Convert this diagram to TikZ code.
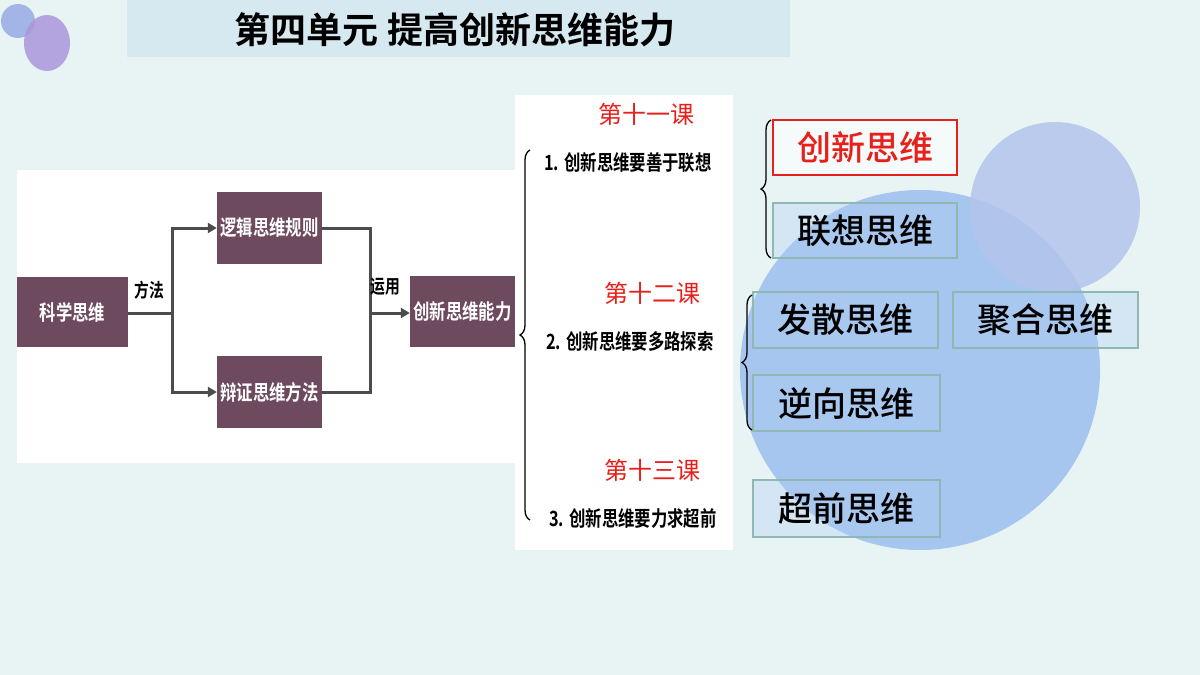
\documentclass[tikz,border=0pt]{standalone}
\usepackage{fontspec}
\usepackage{graphicx}
\newfontfamily\cjk{Noto Sans CJK SC}
\newfontfamily\cjkb{Noto Sans CJK SC Bold}
\newfontfamily\cjkm{Noto Sans CJK SC Medium}
\usetikzlibrary{decorations.pathreplacing,arrows.meta}
\definecolor{bg}{HTML}{E8F4F4}
\definecolor{titlebar}{HTML}{D6E8F0}
\definecolor{plum}{HTML}{6E4A5E}
\definecolor{bigc}{HTML}{A6C6F0}
\definecolor{smallc}{HTML}{B4C4EC}
\definecolor{boxb}{HTML}{8FB8B2}
\definecolor{rd}{HTML}{E8201C}
\newcommand{\narrow}[1]{\scalebox{0.78}[1]{#1}}
\tikzset{
 pbox/.style={fill=plum,text=white,font=\cjkb\fontsize{21}{21}\selectfont,inner sep=0pt},
 conn/.style={draw=black!70,line width=3pt},
 arr/.style={conn,-{Triangle[length=9pt,width=10pt]}},
 lbl/.style={font=\cjkb\fontsize{19}{19}\selectfont},
 lesson/.style={text=rd,font=\cjk\fontsize{24}{24}\selectfont},
 item/.style={font=\cjkb\fontsize{21}{21}\selectfont},
 tbox/.style={draw=boxb,line width=1.5pt,fill=white!10!bigc,fill opacity=0.35,text opacity=1,font=\cjkm\fontsize{34}{34}\selectfont,inner sep=0pt},
 br/.style={draw=black,line width=1.3pt,decorate,decoration={brace,amplitude=10pt}}
}
\begin{document}
\begin{tikzpicture}[x=1pt,y=-1pt]
\fill[bg] (0,0) rectangle (1200,675);
\useasboundingbox (0,0) rectangle (1200,675);
\fill[color={rgb,255:red,150;green,170;blue,228},fill opacity=0.85] (18,21) circle (17);
\fill[color={rgb,255:red,170;green,150;blue,220},fill opacity=0.85] (47,43) ellipse (23 and 28);
\fill[titlebar] (127,0) rectangle (790,57);
\node[font=\cjkb\fontsize{36}{36}\selectfont] (title) at (455,30) {第四单元\ 提高创新思维能力};
% big circles
\fill[bigc] (920,370) circle (180);
\fill[smallc,fill opacity=0.85] (1055,207) circle (85);
% white panels
\fill[white] (17,170) rectangle (515,463);
\fill[white] (515,95) rectangle (733,550);
% purple boxes
\node[pbox,minimum width=111,minimum height=70] (kx) at (72.5,312) {\narrow{科学思维}};
\node[pbox,minimum width=105,minimum height=72] (lj) at (269.5,228) {\narrow{逻辑思维规则}};
\node[pbox,minimum width=105,minimum height=72] (bz) at (269.5,392) {\narrow{辩证思维方法}};
\node[pbox,minimum width=105,minimum height=71] (cx) at (462.5,311.5) {\narrow{创新思维能力}};
\coordinate (j1) at (172,313);
\coordinate (j2) at (370,313);
\draw[conn] (kx.east|-j1) -- (j1);
\draw[arr] (j1) |- (lj.west);
\draw[arr] (j1) |- (bz.west);
\draw[conn] (lj.east) -| (j2);
\draw[conn] (bz.east) -| (j2);
\draw[arr] (j2) -- (cx.west|-j2);
\node[lbl] (ff) at (149,290) {\narrow{方法}};
\node[lbl] (yy) at (385,287) {\narrow{运用}};
% brace
\draw[br] (530,520) -- (530,150);
\node[lesson] (l1) at (646,114) {第十一课};
\node[item] (i1) at (628,163) {\narrow{1. 创新思维要善于联想}};
\node[lesson] (l2) at (652,293) {第十二课};
\node[item] (i2) at (630,341) {\narrow{2. 创新思维要多路探索}};
\node[lesson] (l3) at (652,470) {第十三课};
\node[item] (i3) at (633,519) {\narrow{3. 创新思维要力求超前}};
% right boxes
\node[tbox,draw=rd,fill=white,fill opacity=0.6,text=rd,minimum width=184,minimum height=55] (b1) at (865,147.5) {创新思维};
\node[tbox,minimum width=184,minimum height=55] (b2) at (865,230.5) {联想思维};
\node[tbox,minimum width=185,minimum height=56] (b3) at (845.5,320) {发散思维};
\node[tbox,minimum width=185,minimum height=56] (b4) at (1045.5,320) {聚合思维};
\node[tbox,minimum width=187,minimum height=56] (b5) at (846.5,403) {逆向思维};
\node[tbox,minimum width=187,minimum height=57] (b6) at (846.5,508.5) {超前思维};
\draw[br] (771,258) -- (771,120);
\draw[br] (752,430) -- (752,295);
\end{tikzpicture}
\end{document}
